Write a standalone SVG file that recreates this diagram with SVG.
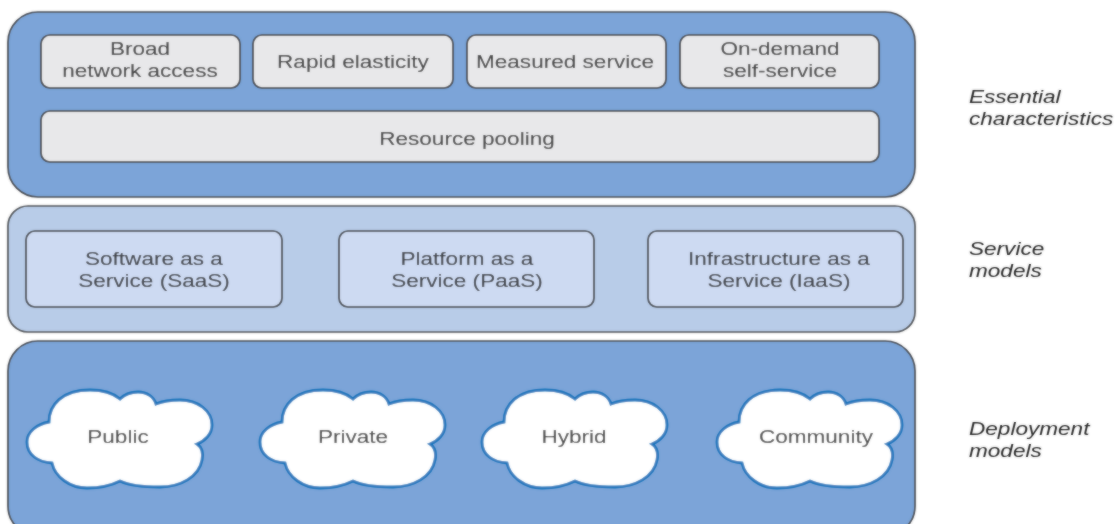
<svg xmlns="http://www.w3.org/2000/svg" xmlns:xlink="http://www.w3.org/1999/xlink" width="1115" height="524" viewBox="0 0 1115 524">
<style>
text{font-family:"Liberation Sans",Arial,sans-serif;font-size:18.5px;fill:#222;text-anchor:middle;transform-box:fill-box;transform-origin:center;transform:scaleX(1.22)}
.i{font-style:italic;text-anchor:start;font-size:18px;transform-origin:left center;transform:scaleX(1.255)}
.panel{stroke:#444;stroke-width:1.7}
.box{fill:#e8e8ea;stroke:#333;stroke-width:1.7}
.svc{fill:#cddaf2;stroke:#333;stroke-width:1.7}
.cloud{fill:#fff;stroke:#0673bb;stroke-width:2.8}
</style>
<defs>
<filter id="b" x="-2%" y="-2%" width="104%" height="104%"><feGaussianBlur in="SourceGraphic" stdDeviation="0.8" result="s"/><feComposite in="SourceGraphic" in2="s" operator="arithmetic" k1="0" k2="0.45" k3="0.55" k4="0"/></filter>
<path id="c" d="M49,422C49,405 62,390 90,390C102,390 113,393 120,399C125,394 130,392 138,392C147,392 154,397 156,404C163,401 172,400 180,400C198,400 212,411 212,425C212,434 205,441 197,444C203,448 203,455 202,460C199,477 180,487 160,487C145,487 130,486 120,481C110,486 98,488 87,488C70,488 55,477 52,463C38,462 27,455 27,442C27,432 37,424 49,422Z"/>
</defs>
<rect width="1115" height="524" fill="#fff"/>
<g filter="url(#b)">
<g id="panels">
<rect class="panel" x="8" y="12" width="907" height="185" rx="30" fill="#7ba4d8"/>
<rect class="panel" x="8" y="206" width="907" height="126" rx="20" fill="#b8cce8"/>
<rect class="panel" x="8" y="341" width="907" height="195" rx="30" fill="#7ba4d8"/>
</g>
<g id="connectors"/>
<g id="n1"><rect class="box" x="41" y="35" width="199" height="53" rx="9"/><text x="140" y="55">Broad</text><text x="140" y="77">network access</text></g>
<g id="n2"><rect class="box" x="253" y="35" width="200" height="53" rx="9"/><text x="353" y="68">Rapid elasticity</text></g>
<g id="n3"><rect class="box" x="467" y="35" width="199" height="53" rx="9"/><text x="565" y="68">Measured service</text></g>
<g id="n4"><rect class="box" x="680" y="35" width="199" height="53" rx="9"/><text x="780" y="55">On-demand</text><text x="780" y="77">self-service</text></g>
<g id="n5"><rect class="box" x="41" y="111" width="838" height="51" rx="9"/><text x="467" y="145">Resource pooling</text></g>
<g id="n6"><rect class="svc" x="26" y="231" width="256" height="76" rx="9"/><text x="154" y="265">Software as a</text><text x="154" y="287">Service (SaaS)</text></g>
<g id="n7"><rect class="svc" x="339" y="231" width="255" height="76" rx="9"/><text x="467" y="265">Platform as a</text><text x="467" y="287">Service (PaaS)</text></g>
<g id="n8"><rect class="svc" x="648" y="231" width="255" height="76" rx="9"/><text x="779" y="265">Infrastructure as a</text><text x="779" y="287">Service (IaaS)</text></g>
<g id="n9"><use xlink:href="#c" href="#c" class="cloud"/><text x="118" y="443">Public</text></g>
<g id="n10"><use xlink:href="#c" href="#c" class="cloud" x="233"/><text x="353" y="443">Private</text></g>
<g id="n11"><use xlink:href="#c" href="#c" class="cloud" x="455"/><text x="574" y="443">Hybrid</text></g>
<g id="n12"><use xlink:href="#c" href="#c" class="cloud" x="690"/><text x="816" y="443">Community</text></g>
<g id="labels">
<text class="i" x="969" y="103">Essential</text><text class="i" x="969" y="125">characteristics</text>
<text class="i" x="969" y="255">Service</text><text class="i" x="969" y="277">models</text>
<text class="i" x="969" y="435">Deployment</text><text class="i" x="969" y="457">models</text>
</g>
</g>
</svg>
